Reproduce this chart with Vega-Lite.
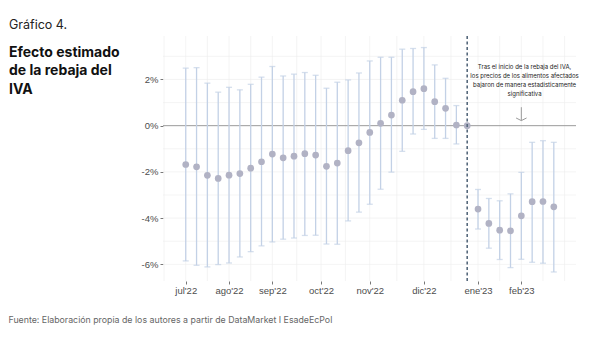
{
  "$schema": "https://vega.github.io/schema/vega-lite/v6.json",
  "width": 413,
  "height": 245,
  "autosize": {"type": "none"},
  "padding": {"left": 163, "top": 36, "right": 24, "bottom": 73},
  "background": "white",
  "config": {"view": {"stroke": null}, "font": "Inter"},
  "title": {
    "text": "Gráfico 4.",
    "subtitle": ["Efecto estimado", "de la rebaja del", "IVA"],
    "anchor": "start",
    "frame": "group",
    "orient": "top",
    "offset": 0,
    "dx": -154,
    "dy": 62,
    "font": "Inter",
    "fontSize": 12.5,
    "fontWeight": "normal",
    "color": "#222222",
    "subtitleFont": "Inter",
    "subtitleFontSize": 14,
    "subtitleFontWeight": "bold",
    "subtitleColor": "#111111",
    "subtitleLineHeight": 18.7,
    "subtitlePadding": 14
  },
  "datasets": {
    "est": [
      {"t": 0, "est": -1.68, "lo": -5.85, "hi": 2.49},
      {"t": 1, "est": -1.78, "lo": -6.04, "hi": 2.51},
      {"t": 2, "est": -2.15, "lo": -6.11, "hi": 1.84},
      {"t": 3, "est": -2.28, "lo": -6.01, "hi": 1.45},
      {"t": 4, "est": -2.14, "lo": -5.94, "hi": 1.66},
      {"t": 5, "est": -2.07, "lo": -5.68, "hi": 1.55},
      {"t": 6, "est": -1.84, "lo": -5.45, "hi": 1.79},
      {"t": 7, "est": -1.56, "lo": -5.20, "hi": 2.10},
      {"t": 8, "est": -1.23, "lo": -5.03, "hi": 2.56},
      {"t": 9, "est": -1.39, "lo": -4.91, "hi": 2.15},
      {"t": 10, "est": -1.32, "lo": -4.86, "hi": 2.23},
      {"t": 11, "est": -1.21, "lo": -4.75, "hi": 2.30},
      {"t": 12, "est": -1.27, "lo": -4.74, "hi": 2.18},
      {"t": 13, "est": -1.76, "lo": -5.12, "hi": 1.62},
      {"t": 14, "est": -1.62, "lo": -5.13, "hi": 1.88},
      {"t": 15, "est": -1.08, "lo": -4.12, "hi": 1.98},
      {"t": 16, "est": -0.74, "lo": -3.74, "hi": 2.28},
      {"t": 17, "est": -0.29, "lo": -3.40, "hi": 2.80},
      {"t": 18, "est": 0.10, "lo": -2.75, "hi": 2.96},
      {"t": 19, "est": 0.46, "lo": -2.01, "hi": 2.96},
      {"t": 20, "est": 1.10, "lo": -1.11, "hi": 3.31},
      {"t": 21, "est": 1.47, "lo": -0.36, "hi": 3.34},
      {"t": 22, "est": 1.60, "lo": -0.16, "hi": 3.38},
      {"t": 23, "est": 1.04, "lo": -0.55, "hi": 2.63},
      {"t": 24, "est": 0.75, "lo": -0.55, "hi": 2.05},
      {"t": 25, "est": 0.03, "lo": -0.79, "hi": 0.87},
      {"t": 26, "est": 0, "lo": null, "hi": null},
      {"t": 27, "est": -3.61, "lo": -4.47, "hi": -2.76},
      {"t": 28, "est": -4.23, "lo": -5.30, "hi": -3.15},
      {"t": 29, "est": -4.52, "lo": -5.79, "hi": -3.25},
      {"t": 30, "est": -4.55, "lo": -6.14, "hi": -2.95},
      {"t": 31, "est": -3.90, "lo": -5.78, "hi": -2.02},
      {"t": 32, "est": -3.29, "lo": -5.91, "hi": -0.72},
      {"t": 33, "est": -3.28, "lo": -5.95, "hi": -0.65},
      {"t": 34, "est": -3.51, "lo": -6.33, "hi": -0.72}
    ],
    "vgrid": [
      {"g": -2}, {"g": 0}, {"g": 2}, {"g": 4}, {"g": 6}, {"g": 8}, {"g": 10.25}, {"g": 12.5},
      {"g": 14.75}, {"g": 17}, {"g": 19.5}, {"g": 22}, {"g": 24.5}, {"g": 27}, {"g": 29},
      {"g": 31}, {"g": 33}, {"g": 35}
    ],
    "hgrid": [
      {"g": -6}, {"g": -5}, {"g": -4}, {"g": -3}, {"g": -2}, {"g": -1}, {"g": 1}, {"g": 2}, {"g": 3}
    ],
    "one": [{"k": 1}]
  },
  "layer": [
    {
      "data": {"name": "vgrid"},
      "mark": {"type": "rule", "color": "#ececec", "strokeWidth": 0.6},
      "encoding": {
        "x": {
          "field": "g",
          "type": "quantitative",
          "scale": {"domain": [-2.1, 36.05], "nice": false, "zero": false},
          "axis": {
            "values": [0, 4, 8, 12.5, 17, 22, 27, 31],
            "labelExpr": "datum.value==0?\"jul'22\":datum.value==4?\"ago'22\":datum.value==8?\"sep'22\":datum.value==12.5?\"oct'22\":datum.value==17?\"nov'22\":datum.value==22?\"dic'22\":datum.value==27?\"ene'23\":\"feb'23\"",
            "grid": false,
            "domain": false,
            "ticks": true,
            "tickSize": 3,
            "tickColor": "#555555",
            "tickWidth": 0.8,
            "labelFont": "Liberation Sans",
            "labelFontSize": 9.5,
            "labelColor": "#4d4d4d",
            "labelPadding": 1,
            "title": "Fuente: Elaboración propia de los autores a partir de DataMarket I EsadeEcPol",
            "titleFont": "Inter",
            "titleFontSize": 8.8,
            "titleFontWeight": "normal",
            "titleColor": "#666666",
            "titleAnchor": "start",
            "titleAlign": "left",
            "titleBaseline": "alphabetic",
            "titleX": -155,
            "titleY": 41
          }
        }
      }
    },
    {
      "data": {"name": "hgrid"},
      "mark": {"type": "rule", "color": "#ececec", "strokeWidth": 0.6},
      "encoding": {
        "y": {
          "field": "g",
          "type": "quantitative",
          "scale": {"domain": [-6.72, 3.88], "nice": false, "zero": false},
          "axis": {
            "values": [-6, -4, -2, 0, 2],
            "labelExpr": "datum.value + '%'",
            "grid": false,
            "domain": false,
            "ticks": true,
            "tickSize": 3,
            "tickColor": "#555555",
            "tickWidth": 0.8,
            "labelFont": "Liberation Sans",
            "labelFontSize": 9.5,
            "labelColor": "#4d4d4d",
            "labelPadding": 2,
            "title": null
          }
        }
      }
    },
    {
      "data": {"name": "one"},
      "mark": {"type": "rule", "color": "#9a9a9a", "strokeWidth": 1},
      "encoding": {"y": {"datum": 0}}
    },
    {
      "data": {"name": "est"},
      "mark": {"type": "rule", "color": "#c3d1e6", "strokeWidth": 1.3},
      "encoding": {
        "x": {"field": "t", "type": "quantitative"},
        "y": {"field": "lo", "type": "quantitative"},
        "y2": {"field": "hi"}
      }
    },
    {
      "data": {"name": "est"},
      "mark": {"type": "tick", "orient": "horizontal", "color": "#c3d1e6", "size": 6, "thickness": 1.3},
      "encoding": {
        "x": {"field": "t", "type": "quantitative"},
        "y": {"field": "lo", "type": "quantitative"}
      }
    },
    {
      "data": {"name": "est"},
      "mark": {"type": "tick", "orient": "horizontal", "color": "#c3d1e6", "size": 6, "thickness": 1.3},
      "encoding": {
        "x": {"field": "t", "type": "quantitative"},
        "y": {"field": "hi", "type": "quantitative"}
      }
    },
    {
      "data": {"name": "est"},
      "mark": {"type": "circle", "color": "#b1b2c4", "opacity": 1, "size": 45},
      "encoding": {
        "x": {"field": "t", "type": "quantitative"},
        "y": {"field": "est", "type": "quantitative"}
      }
    },
    {
      "data": {"name": "one"},
      "mark": {"type": "rule", "color": "#56697c", "strokeWidth": 1.6, "strokeDash": [3, 2.5]},
      "encoding": {"x": {"datum": 26}}
    },
    {
      "data": {"name": "one"},
      "mark": {
        "type": "text",
        "text": ["Tras el inicio de la rebaja del IVA,", "los precios de los alimentos afectados", "bajaron de manera estadísticamente", "significativa"],
        "font": "Inter",
        "fontSize": 6,
        "lineHeight": 9,
        "color": "#222222",
        "align": "center",
        "baseline": "middle"
      },
      "encoding": {"x": {"datum": 31.3}, "y": {"datum": 2.55}}
    },
    {
      "data": {"name": "one"},
      "mark": {"type": "rule", "color": "#9a9a9a", "strokeWidth": 1},
      "encoding": {"x": {"datum": 31.0}, "y": {"datum": 0.8}, "y2": {"datum": 0.22}}
    },
    {
      "data": {"name": "one"},
      "mark": {"type": "point", "shape": "M-1,-0.5L0,0L1,-0.5", "filled": false, "color": "#9a9a9a", "strokeWidth": 1, "size": 110, "opacity": 1},
      "encoding": {"x": {"datum": 31.0}, "y": {"datum": 0.22}}
    }
  ]
}
